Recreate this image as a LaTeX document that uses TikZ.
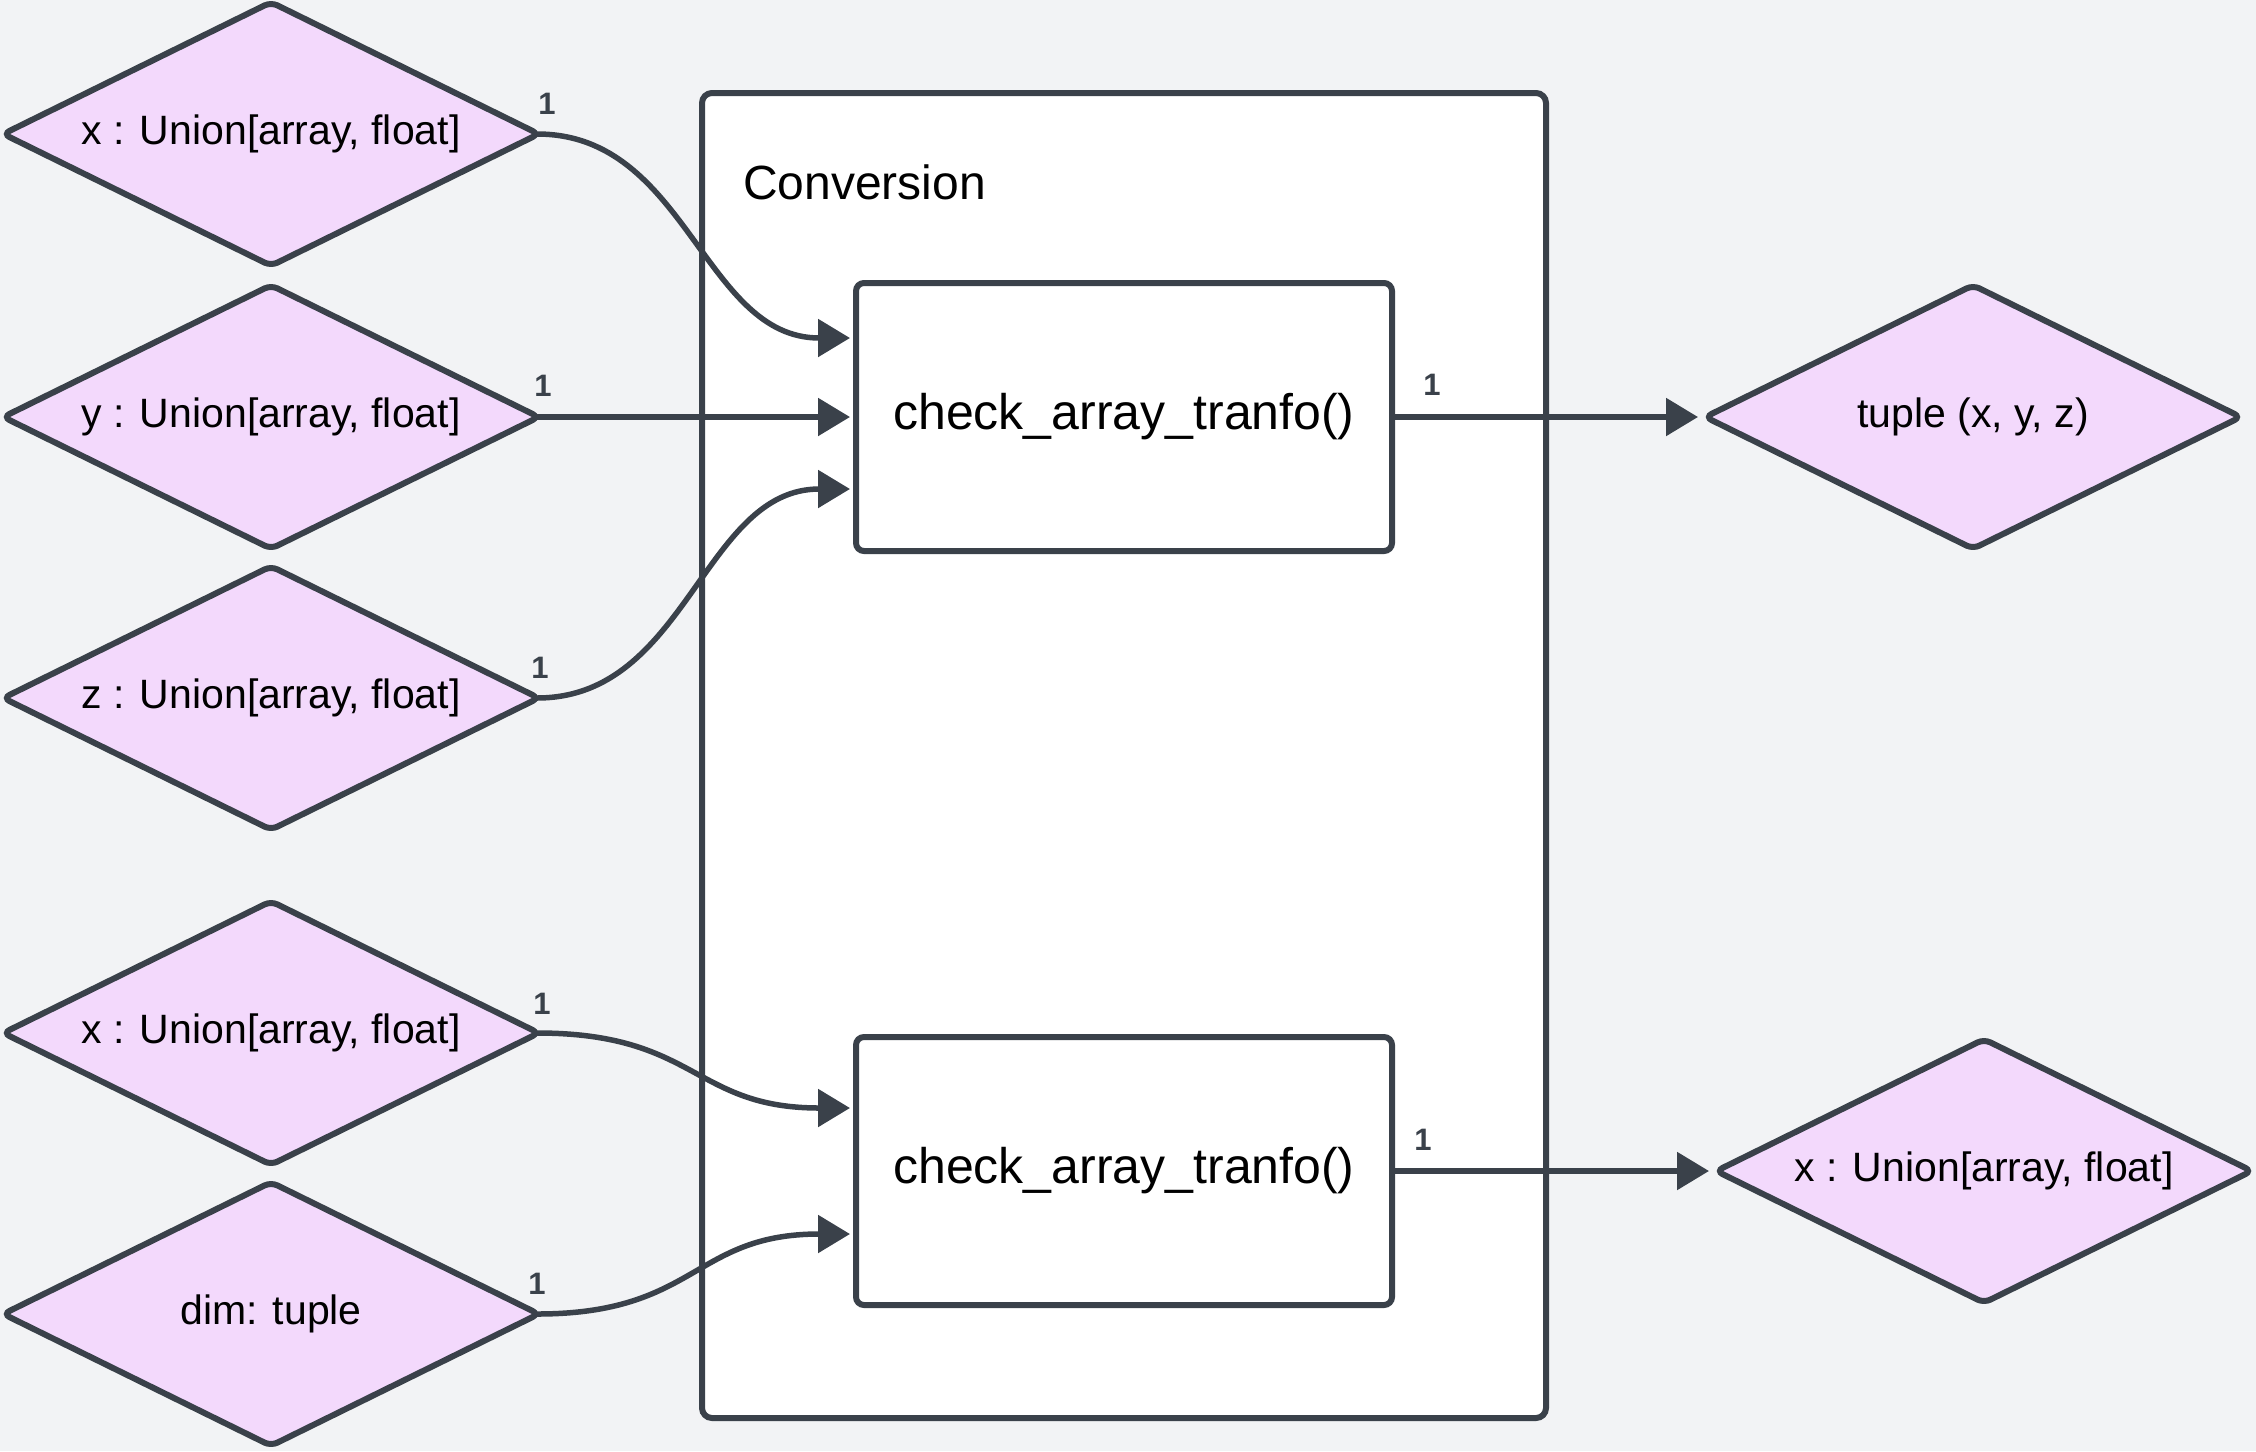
\documentclass[tikz,border=0pt]{standalone}
\usepackage{fontspec}
\setmainfont{Liberation Sans}
\usetikzlibrary{shapes.geometric,arrows.meta}
\definecolor{bgc}{HTML}{F2F3F5}
\definecolor{strk}{HTML}{3A414A}
\definecolor{dfill}{HTML}{F3D9FC}
\begin{document}
\begin{tikzpicture}[x=1pt,y=-1pt,
 dia/.style={diamond, aspect=2, draw=strk, fill=dfill, line width=6pt, rounded corners=7pt, minimum width=538pt, minimum height=266pt, inner sep=0pt, font=\fontsize{41}{48}\selectfont, text=black},
 fnbox/.style={draw=strk, fill=white, line width=6pt, rounded corners=8pt, minimum width=536pt, minimum height=268pt, inner sep=0pt, font=\fontsize{50}{60}\selectfont, text=black},
 conn/.style={draw=strk, line width=5.5pt, -{Triangle[length=32pt,width=37pt]}, shorten >=3pt},
 card/.style={font=\bfseries\fontsize{31}{36}\selectfont, text=strk, inner sep=0pt}
]
\useasboundingbox (0,0) rectangle (2256,1451);
\fill[bgc] (0,0) rectangle (2256,1451);

% container
\node[draw=strk, fill=white, line width=6pt, rounded corners=10pt, minimum width=844pt, minimum height=1325pt, inner sep=0pt] (conv) at (1124,755.5) {};
\node[anchor=base west, font=\fontsize{48}{56}\selectfont, inner sep=0pt] (convlbl) at (743,199) {Conversion};

% function boxes
\node[fnbox] (f1) at (1124,417) {check\_array\_tranfo()};
\node[fnbox] (f2) at (1124,1171) {check\_array\_tranfo()};

% input diamonds
\node[dia] (x1) at (271,134) {x : Union[array, float]};
\node[dia] (y1) at (271,417) {y : Union[array, float]};
\node[dia] (z1) at (271,698) {z : Union[array, float]};
\node[dia] (x2) at (271,1033) {x : Union[array, float]};
\node[dia] (d2) at (271,1314) {dim: tuple};

% output diamonds
\node[dia] (t1) at (1973,417) {tuple (x, y, z)};
\node[dia] (o2) at (1984,1171) {x : Union[array, float]};

% target points on function boxes
\coordinate (f1a) at (f1.west |- 0,338);
\coordinate (f1c) at (f1.west |- 0,489);
\coordinate (f2a) at (f2.west |- 0,1108);
\coordinate (f2b) at (f2.west |- 0,1234);

% connectors
\draw[conn] ([xshift=-6pt]x1.east) .. controls +(150,0) and +(-150,0) .. (f1a);
\draw[conn] ([xshift=-6pt]y1.east) -- (f1.west);
\draw[conn] ([xshift=-6pt]z1.east) .. controls +(150,0) and +(-150,0) .. (f1c);
\draw[conn] ([xshift=-6pt]x2.east) .. controls +(160,0) and +(-160,0) .. (f2a);
\draw[conn] ([xshift=-6pt]d2.east) .. controls +(160,0) and +(-160,0) .. (f2b);
\draw[conn] (f1.east) -- (t1.west);
\draw[conn] (f2.east) -- (o2.west);

% cardinality labels
\node[card] (c1) at (547,104) {1};
\node[card] (c2) at (543,386) {1};
\node[card] (c3) at (540,668) {1};
\node[card] (c4) at (542,1004) {1};
\node[card] (c5) at (537,1284) {1};
\node[card] (c6) at (1432,385) {1};
\node[card] (c7) at (1423,1140) {1};
\end{tikzpicture}
\end{document}
